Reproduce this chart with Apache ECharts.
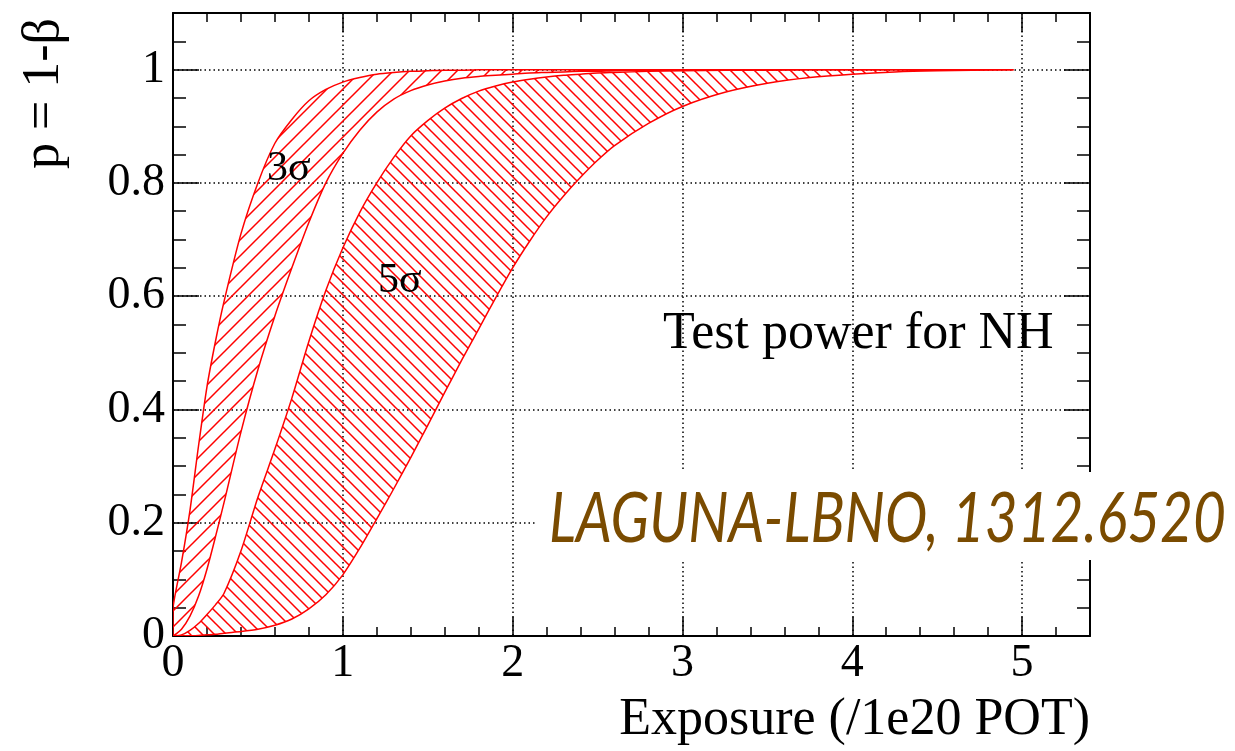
<!DOCTYPE html>
<html><head><meta charset="utf-8">
<script src="https://cdn.jsdelivr.net/npm/echarts@6/dist/echarts.min.js"></script>
<style>html,body{margin:0;padding:0;background:#fff}#c{width:1235px;height:751px}</style>
</head><body><div id="c"></div><script>
// ---- data ----
const exposure    = [0, 0.05, 0.1, 0.15, 0.2, 0.25, 0.3, 0.4, 0.5, 0.6, 0.7, 0.8, 0.9, 1.0, 1.1, 1.2, 1.3, 1.4, 1.5, 1.6, 1.7, 1.8, 1.9, 2.0, 2.1, 2.2, 2.3, 2.4, 2.5, 2.6, 2.8, 3.0, 3.25, 3.5, 3.75, 4.0, 4.25, 4.5, 4.95];
const sigma3Upper = [0.05, 0.13, 0.222, 0.335, 0.44, 0.52, 0.59, 0.71, 0.8, 0.87, 0.912, 0.945, 0.965, 0.978, 0.986, 0.992, 0.995, 0.997, 0.998, 0.999, 0.999, 1, 1, 1, 1, 1, 1, 1, 1, 1, 1, 1, 1, 1, 1, 1, 1, 1, 1];
const sigma3Lower = [0, 0.012, 0.035, 0.07, 0.118, 0.175, 0.235, 0.36, 0.47, 0.565, 0.65, 0.73, 0.8, 0.852, 0.893, 0.925, 0.948, 0.963, 0.973, 0.98, 0.985, 0.988, 0.99, 0.992, 0.994, 0.995, 0.996, 0.997, 0.997, 0.998, 0.999, 0.999, 1, 1, 1, 1, 1, 1, 1];
const sigma5Upper = [0, 0.002, 0.01, 0.022, 0.038, 0.055, 0.075, 0.15, 0.245, 0.33, 0.42, 0.52, 0.61, 0.685, 0.748, 0.8, 0.845, 0.883, 0.91, 0.932, 0.949, 0.962, 0.971, 0.978, 0.983, 0.987, 0.99, 0.992, 0.994, 0.995, 0.997, 0.998, 0.999, 0.999, 1, 1, 1, 1, 1];
const sigma5Lower = [0, 0.0002, 0.0005, 0.001, 0.002, 0.003, 0.005, 0.008, 0.012, 0.019, 0.03, 0.048, 0.073, 0.108, 0.155, 0.207, 0.26, 0.315, 0.372, 0.43, 0.487, 0.542, 0.597, 0.65, 0.697, 0.74, 0.777, 0.81, 0.84, 0.866, 0.905, 0.935, 0.96, 0.976, 0.986, 0.992, 0.996, 0.998, 1];
const xTicks = [0, 1, 2, 3, 4, 5];
const yTicks = [0, 0.2, 0.4, 0.6, 0.8, 1];
const bandLabels = ['3σ', '5σ'];
const xTitle = 'Exposure (/1e20 POT)';
const yTitle = 'p = 1-β';
const noteText = 'Test power for NH';
const refText = 'LAGUNA-LBNO, 1312.6520';

// ---- styles ----
const SERIF = '"Liberation Serif","Times New Roman",serif';
const RED = '#ff0000';
const REF_FONT = 'italic 70px Lato, "Open Sans", sans-serif';
const REF_WIDTH = 677;

function hatch(step, slash, lw) {
  const c = document.createElement('canvas');
  c.width = step; c.height = step;
  const g = c.getContext('2d');
  g.strokeStyle = RED; g.lineWidth = lw; g.beginPath();
  for (let k = 0; k <= 2; k++) {
    if (slash) { g.moveTo(-1, k * step + 1); g.lineTo(step + 1, k * step - step - 1); }
    else { g.moveTo(-1, -1 + (k - 1) * step); g.lineTo(step + 1, step + 1 + (k - 1) * step); }
  }
  g.stroke();
  return { image: c, repeat: 'repeat' };
}
const fill3 = hatch(16, true, 1.5);
const fill5 = hatch(12, false, 1.5);

function bandSeries(name, upper, lower, fill) {
  return {
    type: 'custom', name: name, coordinateSystem: 'cartesian2d', clip: true,
    xAxisIndex: 0, yAxisIndex: 0, data: [0], silent: true,
    renderItem: function (params, api) {
      const pts = [];
      const n = exposure.length;
      for (let i = 0; i < n; i++) pts.push(api.coord([exposure[i], upper[i]]));
      for (let i = n - 1; i >= 0; i--) {
        if (i === n - 1 && lower[i] === upper[i]) continue;
        pts.push(api.coord([exposure[i], lower[i]]));
      }
      const lo = api.coord([exposure[0], 0]);
      const hi = api.coord([exposure[n - 1], 1]);
      return {
        type: 'polygon',
        shape: { points: pts, smooth: 0.25, smoothConstraint: [[lo[0], hi[1]], [hi[0], lo[1]]] },
        style: { fill: fill, stroke: RED, lineWidth: 1.5 }
      };
    }
  };
}

const XMAX = 5.4, YMAX = 1.1;
function axisCommon(major, tickLen, extra) {
  return Object.assign({
    type: 'value', min: 0,
    axisLine: { show: major, onZero: false, lineStyle: { color: '#000', width: 2 } },
    axisTick: { show: true, inside: true, length: tickLen, lineStyle: { color: '#000', width: 1.5 } },
    minorTick: { show: false },
    axisLabel: { show: false },
    splitLine: { show: false }
  }, extra);
}
const gridLine = { show: true, lineStyle: { color: '#000', width: 1.5, type: [1.5, 3] } };

// horizontal scale so the reference note spans the same width as in the original
const mctx = document.createElement('canvas').getContext('2d');
mctx.font = REF_FONT;
const refScale = REF_WIDTH / mctx.measureText(refText).width;

const chart = echarts.init(document.getElementById('c'), null, { renderer: 'canvas' });
chart.setOption({
  animation: false,
  backgroundColor: '#fff',
  grid: { left: 173, top: 13, right: 145, bottom: 115 },
  xAxis: [
    axisCommon(true, 19, {
      position: 'bottom', max: XMAX, interval: xTicks[1] - xTicks[0],
      axisLabel: { show: true, margin: 5, color: '#000', fontFamily: SERIF, fontSize: 46, showMaxLabel: false },
      splitLine: gridLine,
      name: xTitle, nameLocation: 'end', nameGap: 0, nameMoveOverlap: false,
      nameTextStyle: { fontFamily: SERIF, fontSize: 52, color: '#000', align: 'right', verticalAlign: 'top', padding: [58, 0, 0, 0] }
    }),
    axisCommon(false, 9, { position: 'bottom', max: XMAX, interval: 0.2 }),
    axisCommon(true, 19, { position: 'top', max: XMAX, interval: 1 }),
    axisCommon(false, 9, { position: 'top', max: XMAX, interval: 0.2 })
  ],
  yAxis: [
    axisCommon(true, 26, {
      position: 'left', max: YMAX, interval: yTicks[1] - yTicks[0],
      axisLabel: { show: true, margin: 8, color: '#000', fontFamily: SERIF, fontSize: 46, showMaxLabel: false },
      splitLine: gridLine,
      name: yTitle, nameLocation: 'end', nameGap: -5, nameRotate: 90, nameMoveOverlap: false,
      nameTextStyle: { fontFamily: SERIF, fontSize: 52, color: '#000', align: 'right', verticalAlign: 'bottom', padding: [0, 0, 103, 0] }
    }),
    axisCommon(false, 13, { position: 'left', max: YMAX, interval: 0.05 }),
    axisCommon(true, 26, { position: 'right', max: YMAX, interval: 0.2 }),
    axisCommon(false, 13, { position: 'right', max: YMAX, interval: 0.05 })
  ],
  series: [
    bandSeries('3σ', sigma3Upper, sigma3Lower, fill3),
    bandSeries('5σ', sigma5Upper, sigma5Lower, fill5)
  ],
  graphic: [
    { type: 'text', z: 100, style: { text: bandLabels[0], x: 267, y: 190, font: '42px ' + SERIF, fill: '#000', align: 'left', verticalAlign: 'bottom' } },
    { type: 'text', z: 100, style: { text: bandLabels[1], x: 378, y: 302, font: '42px ' + SERIF, fill: '#000', align: 'left', verticalAlign: 'bottom' } },
    { type: 'text', z: 100, style: { text: noteText, x: 663, y: 360, font: '52px ' + SERIF, fill: '#000', align: 'left', verticalAlign: 'bottom' } },
    { type: 'rect', z: 100, shape: { x: 537, y: 472, width: 700, height: 88 }, style: { fill: '#fff' } },
    { type: 'text', z: 101, x: 549, y: 554, scaleX: refScale, style: { text: refText, x: 0, y: 0, font: REF_FONT, fill: '#7a4b00', align: 'left', verticalAlign: 'bottom' } }
  ]
});
</script></body></html>
